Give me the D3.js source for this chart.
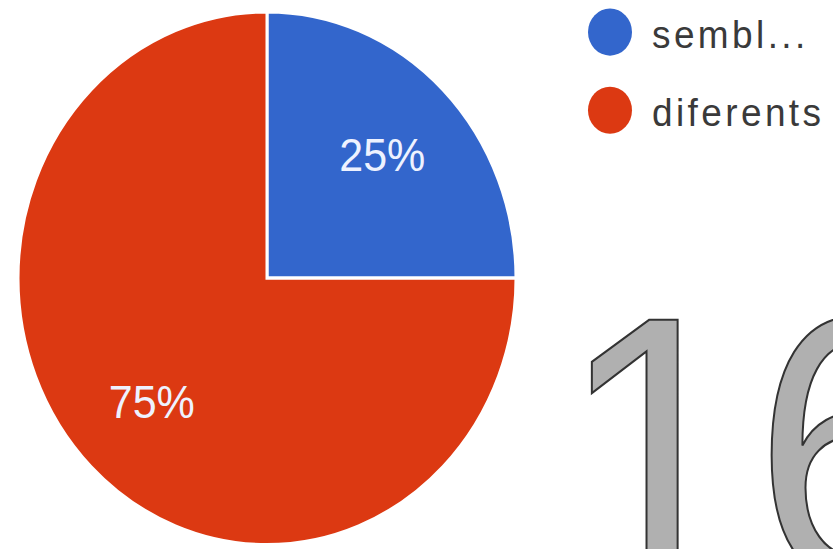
<!DOCTYPE html>
<html>
<head>
<meta charset="utf-8">
<script src="https://cdn.jsdelivr.net/npm/d3@7"></script>
<style>
  body { margin: 0; background: #fff; }
</style>
</head>
<body>
<div id="grafico"></div>
<script>
// datos
const categorias = ["sembl...", "diferents"];
const valores = [25, 75];
const colores = ["#3366cc", "#dc3912"];
const totalRespuestas = "16";

const ancho = 833, alto = 549;
const estiramiento = 1.07; // la imagen original esta estirada en vertical
const centroX = 267, centroY = 260;
const radio = 249;
const radioEtiqueta = 163;

const $svg = d3.select("#grafico")
    .append("svg")
    .attr("width", ancho)
    .attr("height", alto);

const raiz = $svg.append("g")
    .attr("transform", `scale(1,${estiramiento})`);

const tarta = d3.pie().sort(null).value(d => d);
const arco = d3.arc().innerRadius(0).outerRadius(radio);
const arcoEtiqueta = d3.arc().innerRadius(radioEtiqueta).outerRadius(radioEtiqueta);
const total = d3.sum(valores);

const gTarta = raiz.append("g")
    .attr("transform", `translate(${centroX},${centroY})`);

const porciones = tarta(valores);

gTarta.selectAll("path")
    .data(porciones)
    .join("path")
    .attr("d", arco)
    .attr("fill", (d, i) => colores[i])
    .attr("stroke", "#fff")
    .attr("stroke-width", 3);

gTarta.selectAll("text")
    .data(porciones)
    .join("text")
    .attr("transform", d => `translate(${arcoEtiqueta.centroid(d)})`)
    .attr("fill", "#eef2ff")
    .attr("font-family", "Liberation Sans, Arial, sans-serif")
    .attr("font-size", 43)
    .attr("text-anchor", "middle")
    .attr("dy", "0.36em")
    .text(d => Math.round(d.data / total * 100) + "%");

// leyenda
const yLeyenda = d3.scalePoint().domain(categorias).range([30, 103]);

const leyenda = raiz.append("g")
    .selectAll("g")
    .data(categorias)
    .join("g")
    .attr("transform", d => `translate(610,${yLeyenda(d)})`);

leyenda.append("circle")
    .attr("r", 22)
    .attr("fill", (d, i) => colores[i]);

leyenda.append("text")
    .attr("x", 42)
    .attr("y", 15)
    .attr("fill", "#3a3a3a")
    .attr("font-family", "Liberation Sans, Arial, sans-serif")
    .attr("font-size", 37)
    .attr("letter-spacing", 3.4)
    .text(d => d);

// numero grande
raiz.append("text")
    .attr("x", 558)
    .attr("y", 541)
    .attr("fill", "#b0b0b0")
    .attr("stroke", "#333")
    .attr("stroke-width", 2)
    .attr("font-family", "Liberation Sans, Arial, sans-serif")
    .attr("font-size", 352)
    .text(totalRespuestas);
</script>
</body>
</html>
